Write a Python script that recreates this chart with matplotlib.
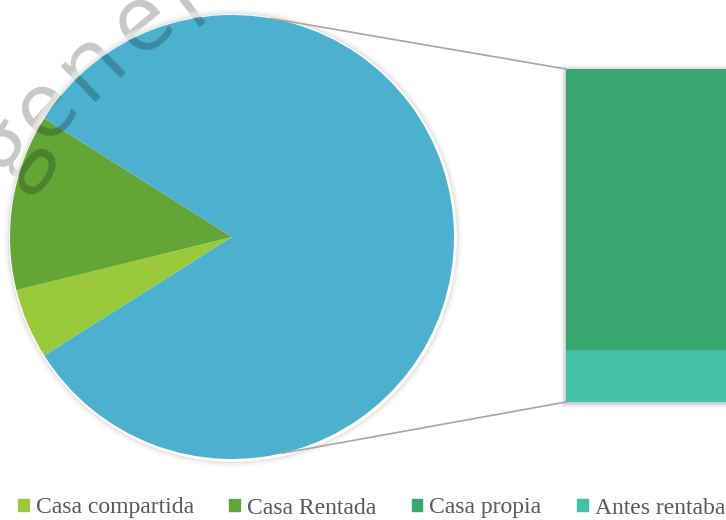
import matplotlib
matplotlib.use("Agg")
import matplotlib.pyplot as plt
from matplotlib.patches import Wedge, Rectangle, ConnectionPatch, Patch
import numpy as np

categories = ["Casa compartida", "Casa Rentada", "Casa propia", "Antes rentaban"]
values = [4, 10, 54, 10]
colors = ["#9ACA3C", "#64A537", "#38A870", "#44C1A5"]
other_color = "#4BB1CF"
watermark = "gener"

W, H = 726, 520
fig = plt.figure(figsize=(W / 100, H / 100), dpi=100)

# main axes in pixel units (y up)
ax = fig.add_axes([0, 0, 1, 1])
cx, cy, r = 232, 283, 222

pie_vals = [values[0], values[1], sum(values[2:])]
start = 180 + (values[0] + values[1]) / sum(values) * 180
ax.pie(pie_vals, colors=colors[:2] + [other_color], center=(cx, cy), radius=r,
       startangle=start, counterclock=False, wedgeprops=dict(linewidth=0))

# watermark letters along an arc (under the pie's soft edge)
wm_pos = [(12, 152), (46, 108), (92, 64), (143, 22), (193, -4)]
wm_rot = [54, 48, 44, 40, 37]
for ch, (x, y), rot in zip(watermark, wm_pos, wm_rot):
    ax.text(x, H - y, ch, fontsize=68, family="Open Sans", color="k", alpha=0.22,
            ha="center", va="center", rotation=rot, rotation_mode="anchor", zorder=3)

# soft light edge round the pie
for i, (c, a) in enumerate([("#e2e2e2", 0.9), ("#ececec", 0.75), ("#f4f4f4", 0.55), ("#fafafa", 0.35)]):
    ax.add_patch(Wedge((cx + 1, cy - 1), r + 2 + 1.5 * (i + 1), 0, 360, width=1.6,
                       color=c, alpha=a, lw=0, zorder=4))

# shadow behind the bar
bx0, by0, bh = 566, 118, 333
for i, a in enumerate([0.025, 0.03, 0.04, 0.05, 0.06]):
    d = 5 - i
    ax.add_patch(Rectangle((bx0 - d, by0 - d - 1), 400, bh + 2 * d, color="k", alpha=a, lw=0))

ax.set_xlim(0, W)
ax.set_ylim(0, H)
ax.set_aspect("equal")
ax.axis("off")

# the bar of the "other" slice
bx = fig.add_axes([bx0 / W, by0 / H, (W - bx0 + 60) / W, bh / H])
bx.bar(0, values[3], width=1, color=colors[3], lw=0)
bx.bar(0, values[2], bottom=values[3], width=1, color=colors[2], lw=0)
bx.set_xlim(-0.5, 0.5)
bx.set_ylim(0, sum(values[2:]))
bx.axis("off")

# connector lines
for ang, yb in [(80, sum(values[2:])), (-77, 0)]:
    p = (cx + r * np.cos(np.radians(ang)), cy + r * np.sin(np.radians(ang)))
    con = ConnectionPatch(xyA=p, coordsA=ax.transData, xyB=(-0.5, yb), coordsB=bx.transData,
                          color="#a6a6a6", lw=1.2)
    fig.add_artist(con)

handles = [Patch(color=c) for c in colors]
fig.legend(handles, categories, loc="center left", bbox_to_anchor=(18 / W, (H - 508) / H),
           ncol=4, frameon=False, prop=dict(family="Liberation Serif", size=17),
           labelcolor="#595959", handlelength=0.45, handleheight=0.45, handletextpad=0.3,
           columnspacing=1.5, borderpad=0, borderaxespad=0)

fig.savefig("out.png", dpi=100)
